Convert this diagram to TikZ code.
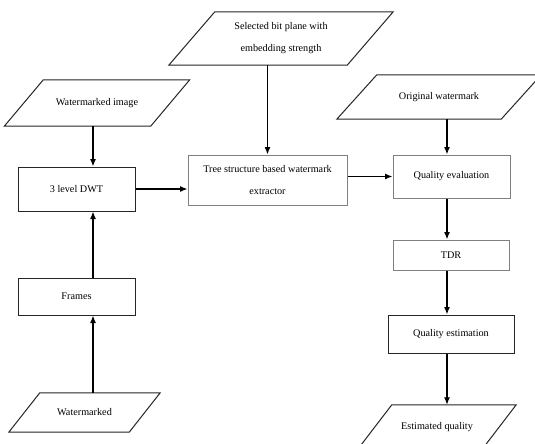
\documentclass[tikz,border=0pt]{standalone}
\usepackage{fontspec}
\setmainfont{Liberation Serif}
\usetikzlibrary{arrows.meta}
\begin{document}
\begin{tikzpicture}[x=1pt,y=-1pt,
  txt/.style={font=\fontsize{10.2}{22}\selectfont, align=center, inner sep=0pt},
  procbox/.style={txt, draw=black!85, line width=1pt},
  lightbox/.style={txt, draw=black!50, line width=1pt},
  iobox/.style={txt},
  paraline/.style={draw=black!85, line width=1pt},
  arr/.style={line width=1.3pt, -{Latex[length=7.5pt,width=6pt]}}
]
\useasboundingbox (0,0) rectangle (535,444);
\fill[white] (0,0) rectangle (535,444);

% column coordinates
\coordinate (lc) at (93,0);
\coordinate (rc) at (447,0);

% process boxes
\node[procbox, minimum width=117pt, minimum height=44pt] (dwt) at (76.5,189) {3 level DWT};
\node[lightbox, minimum width=159pt, minimum height=50pt] (tree) at (267.5,180) {Tree structure based watermark\\extractor};
\node[lightbox, minimum width=117pt, minimum height=43pt] (qe) at (451.5,176.5) {Quality evaluation};
\node[lightbox, minimum width=116pt, minimum height=30pt] (tdr) at (451,255) {TDR};
\node[procbox, minimum width=126pt, minimum height=38pt] (qest) at (451,334) {Quality estimation};
\node[procbox, minimum width=117pt, minimum height=37pt] (fr) at (76.5,296.5) {Frames};

% input / output parallelograms (text nodes; outline drawn below)
\node[iobox, minimum width=178pt, minimum height=53pt] (sel) at (281,38.5) {Selected bit plane with\\embedding strength};
\node[iobox, minimum width=146pt, minimum height=46pt] (wi) at (97,103) {Watermarked image};
\node[iobox, minimum width=164pt, minimum height=44pt] (ow) at (439,97) {Original watermark};
\node[iobox, minimum width=120pt, minimum height=39pt] (wm) at (84.5,412.5) {Watermarked};
\node[iobox, minimum width=124pt, minimum height=44pt] (est) at (437,427) {Estimated quality};

\draw[paraline] ([xshift=23pt]sel.north west) -- ([xshift=23pt]sel.north east) -- ([xshift=-23pt]sel.south east) -- ([xshift=-23pt]sel.south west) -- cycle;
\draw[paraline] ([xshift=19.5pt]wi.north west) -- ([xshift=19.5pt]wi.north east) -- ([xshift=-19.5pt]wi.south east) -- ([xshift=-19.5pt]wi.south west) -- cycle;
\draw[paraline] ([xshift=20pt]ow.north west) -- ([xshift=20pt]ow.north east) -- ([xshift=-20pt]ow.south east) -- ([xshift=-20pt]ow.south west) -- cycle;
\draw[paraline] ([xshift=15.5pt]wm.north west) -- ([xshift=15.5pt]wm.north east) -- ([xshift=-15.5pt]wm.south east) -- ([xshift=-15.5pt]wm.south west) -- cycle;
\draw[paraline] ([xshift=17pt]est.north west) -- ([xshift=17pt]est.north east) -- ([xshift=-17pt]est.south east) -- ([xshift=-17pt]est.south west) -- cycle;

% connectors
\draw[arr] (wi.south -| lc) -- (dwt.north -| lc);
\draw[arr] (fr.north -| lc) -- (dwt.south -| lc);
\draw[arr] (wm.north -| lc) -- (fr.south -| lc);
\draw[arr] (dwt.east) -- (dwt.east -| tree.west);
\draw[arr] (sel.south -| tree.north) -- (tree.north);
\draw[arr] (tree.east |- qe.west) -- (qe.west);
\draw[arr] (ow.south -| rc) -- (qe.north -| rc);
\draw[arr] (qe.south -| rc) -- (tdr.north -| rc);
\draw[arr] (tdr.south -| rc) -- (qest.north -| rc);
\draw[arr] (qest.south -| rc) -- (est.north -| rc);
\end{tikzpicture}
\end{document}
